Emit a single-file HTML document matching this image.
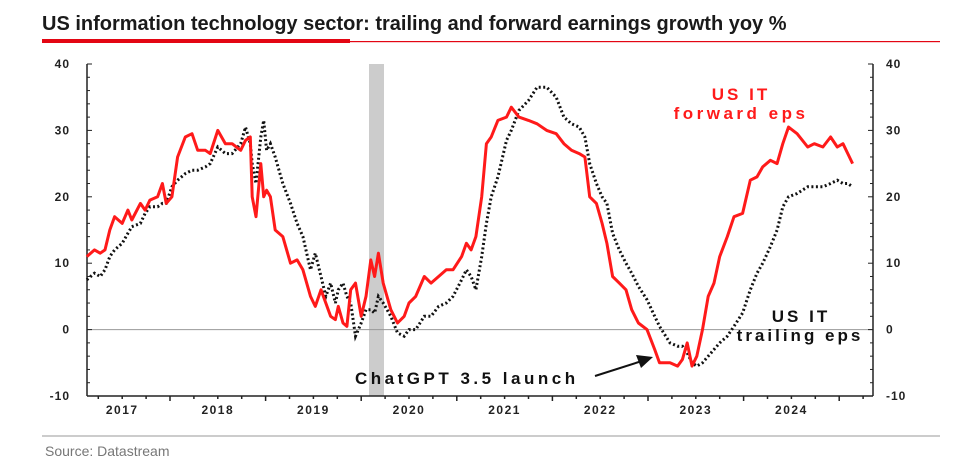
<!DOCTYPE html>
<html><head><meta charset="utf-8"><style>
body{margin:0;background:#fff;}
svg{display:block;font-family:"Liberation Sans",Arial,sans-serif;}
</style></head><body>
<svg id="chart" width="960" height="462" viewBox="0 0 960 462" xmlns="http://www.w3.org/2000/svg">
<text x="42" y="30" font-size="20" font-weight="bold" fill="#1a1a1a">US information technology sector: trailing and forward earnings growth yoy %</text>
<rect x="42" y="39" width="308" height="4" fill="#e30613"/>
<rect x="350" y="41" width="590" height="1.2" fill="#e30613"/>
<rect x="369" y="64" width="15" height="332" fill="#cccccc"/>
<g id="axes"></g>
<g id="series"></g>
<text x="741" y="100" font-size="17" font-weight="bold" fill="#ff1a1a" text-anchor="middle" letter-spacing="3">US IT</text>
<text x="741" y="119" font-size="17" font-weight="bold" fill="#ff1a1a" text-anchor="middle" letter-spacing="3.5">forward eps</text>
<text x="801" y="322" font-size="17" font-weight="bold" fill="#111" text-anchor="middle" letter-spacing="3">US IT</text>
<text x="800" y="341" font-size="17" font-weight="bold" fill="#111" text-anchor="middle" letter-spacing="3">trailing eps</text>
<text x="355" y="384" font-size="17" font-weight="bold" fill="#111" letter-spacing="3.5">ChatGPT 3.5 launch</text>
<line x1="595" y1="376" x2="642" y2="361" stroke="#111" stroke-width="2"/>
<polygon points="653,357 636,355 641,368" fill="#111"/>
<line x1="42" y1="436" x2="940" y2="436" stroke="#999" stroke-width="1"/>
<text x="45" y="456" font-size="14" fill="#777">Source: Datastream</text>
</svg>
<script>
const dates=[2017.13,2017.21,2017.27,2017.32,2017.37,2017.42,2017.50,2017.56,2017.60,2017.69,2017.74,2017.79,2017.87,2017.92,2017.96,2018.02,2018.08,2018.16,2018.23,2018.29,2018.37,2018.42,2018.50,2018.58,2018.65,2018.74,2018.79,2018.84,2018.86,2018.90,2018.95,2018.98,2019.01,2019.05,2019.10,2019.18,2019.26,2019.33,2019.39,2019.47,2019.52,2019.58,2019.63,2019.68,2019.73,2019.76,2019.81,2019.85,2019.89,2019.94,2020.00,2020.05,2020.10,2020.14,2020.18,2020.23,2020.31,2020.38,2020.45,2020.50,2020.57,2020.66,2020.73,2020.81,2020.89,2020.96,2021.05,2021.10,2021.15,2021.20,2021.26,2021.31,2021.36,2021.43,2021.52,2021.57,2021.65,2021.75,2021.84,2021.94,2022.04,2022.12,2022.20,2022.28,2022.34,2022.39,2022.46,2022.52,2022.57,2022.63,2022.70,2022.77,2022.83,2022.90,2022.99,2023.07,2023.12,2023.23,2023.31,2023.36,2023.41,2023.46,2023.51,2023.57,2023.63,2023.69,2023.75,2023.83,2023.90,2023.99,2024.07,2024.14,2024.20,2024.28,2024.35,2024.41,2024.47,2024.56,2024.67,2024.74,2024.83,2024.91,2024.98,2025.04,2025.09,2025.14];
const forwardEps=[11,12,11.5,12,15,17,16,18,16.5,19,18,19.5,20,22,19,20,26,29,29.5,27,27,26.5,30,28,28,27,28.5,29,20,17,25,20,21,20,15,14,10,10.5,9,5,3.5,6,4,2,1.5,3.5,1,0.5,6,7,2,5,10.5,8,11.5,7,3,1,2,4,5,8,7,8,9,9,11,13,12,14,20,28,29,31.5,32,33.5,32,31.5,31,30,29.5,28,27,26.5,26,20,19,16,13,8,7,6,3,1,0,-3,-5,-5,-5.5,-4.5,-2,-5.5,-4,0,5,7,11,14,17,17.5,22.5,23,24.5,25.5,25,28,30.5,29.5,27.5,28,27.5,29,27.5,28,26.5,25];
const trailingEps=[7.5,8.5,8,9,11,12,13,14.5,15.5,16,17.5,18.5,18.5,19,19,21.5,22.5,23.5,24,24,24.5,25,27.5,26.5,26.5,28,30.5,28,25,22,29,31.5,27,28,26,22,19,16,14,9,11.5,8,5,7,4,6,7,5,4,-1,1,3,3,2.5,5,4,2,-0.5,-1,0,0,2,2,3.5,4,5,7.5,9,8,6,11,16,20,23,28.5,30,33,34.5,36.5,36.5,35,32,31,30.5,29,25,22,20,19,14.5,12,10,8.5,6.5,4.5,2,0.5,-2,-2.5,-2.5,-3.5,-5,-5.5,-5,-4,-3,-2,-1,0.5,2.5,6,8.5,10,12.5,15,18.5,20,20.5,21.5,21.5,21.5,22,22.5,22,22,21.5];
const yTicks=[40,30,20,10,0,-10];
const yearLabels=["2017","2018","2019","2020","2021","2022","2023","2024"];

const NS="http://www.w3.org/2000/svg";
const X0=87,X1=873,Y0=64,Y1=396;
function xs(t){return 170+(t-2018)*95.6;}
function ys(v){return Y1-(v+10)/50*(Y1-Y0);}
function mk(tag,attrs,parent){const e=document.createElementNS(NS,tag);for(const k in attrs)e.setAttribute(k,attrs[k]);parent.appendChild(e);return e;}
const ax=document.getElementById('axes');
let e;
e=mk('line',{x1:X0,y1:ys(0),x2:X1,y2:ys(0),stroke:'#999','stroke-width':1},ax);


e=mk('line',{x1:X0,y1:Y0,x2:X0,y2:Y1,stroke:'#222','stroke-width':1.5},ax);


e=mk('line',{x1:X1,y1:Y0,x2:X1,y2:Y1,stroke:'#222','stroke-width':1.5},ax);


e=mk('line',{x1:X0,y1:Y1,x2:X1,y2:Y1,stroke:'#222','stroke-width':1.5},ax);


for(let v=-10;v<=40;v+=2){
  const major=v%10===0;
  mk('line',{x1:X0,y1:ys(v),x2:X0+(major?5:3),y2:ys(v),stroke:'#222','stroke-width':1},ax);
  mk('line',{x1:X1,y1:ys(v),x2:X1-(major?5:3),y2:ys(v),stroke:'#222','stroke-width':1},ax);
}
yTicks.forEach(v=>{
  let t=mk('text',{x:70,y:ys(v)+4,'font-size':12,'font-weight':'bold','text-anchor':'end',fill:'#222','letter-spacing':1},ax);
  t.textContent=v;
  
  
  t=mk('text',{x:886,y:ys(v)+4,'font-size':12,'font-weight':'bold',fill:'#222','letter-spacing':1},ax);
  t.textContent=v;
  
  
});
for(let q=2017.25;q<=2025.25;q+=0.25){
  const x=xs(q);if(x<X0||x>X1)continue;
  const major=Math.abs(q-Math.round(q))<0.01;
  mk('line',{x1:x,y1:Y1,x2:x,y2:Y1+(major?5:3),stroke:'#222','stroke-width':1.5},ax);
}
yearLabels.forEach(y=>{
  const t=mk('text',{x:xs(+y+0.5),y:414,'font-size':12,'font-weight':'bold','text-anchor':'middle',fill:'#222','letter-spacing':1.5},ax);
  t.textContent=y;
  
  
});
const sg=document.getElementById('series');
function path(vals){return vals.map((v,i)=>(i?'L':'M')+xs(dates[i]).toFixed(1)+','+ys(v).toFixed(1)).join('');}
e=mk('path',{d:path(trailingEps),fill:'none',stroke:'#111','stroke-width':3,'stroke-dasharray':'2 2.5'},sg);


e=mk('path',{d:path(forwardEps),fill:'none',stroke:'#ff1a1a','stroke-width':3,'stroke-linejoin':'round'},sg);


</script>
</body></html>
